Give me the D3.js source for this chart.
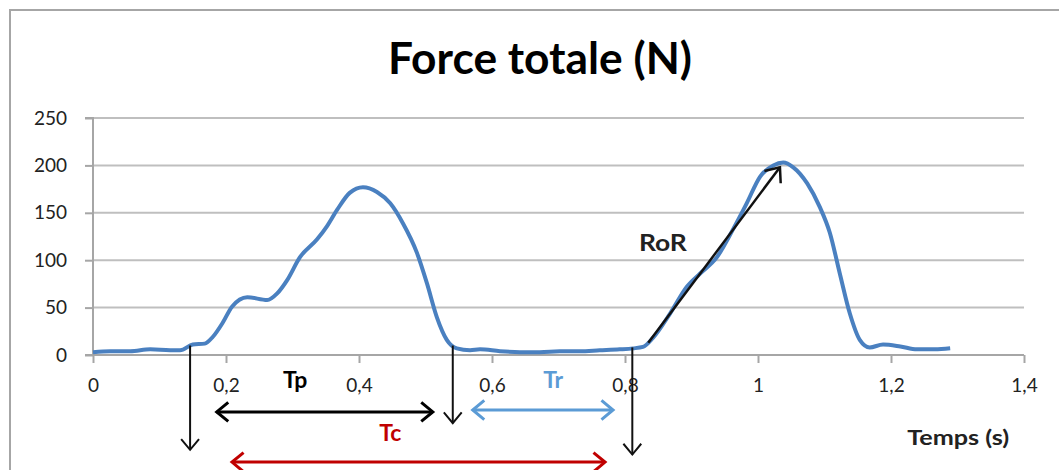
<!DOCTYPE html>
<html><head><meta charset="utf-8">
<script src="https://cdn.jsdelivr.net/npm/d3@7"></script>
<style>
html,body{margin:0;padding:0;background:#fff;}
svg{display:block;font-family:Lato,"Open Sans",sans-serif;}
</style></head>
<body><svg id="c" width="1059" height="470"></svg>
<script>
// ---- data ----
const title = "Force totale (N)";
const xLabel = "Temps (s)";
const time = [0,0.026,0.056,0.086,0.116,0.131,0.150,0.168,0.180,0.195,0.209,0.232,0.262,0.277,0.292,0.311,0.337,0.352,0.367,0.386,0.406,0.427,0.447,0.466,0.487,0.502,0.517,0.532,0.547,0.567,0.582,0.612,0.642,0.672,0.702,0.732,0.762,0.792,0.812,0.827,0.842,0.868,0.893,0.913,0.938,0.962,0.983,1.003,1.023,1.038,1.053,1.074,1.093,1.108,1.123,1.138,1.153,1.168,1.188,1.214,1.239,1.266,1.289];
const force = [3,4,4,6,5,5,11,12,19,34,51,61,58,65,79,103,122,136,153,171,177,172,160,139,108,76,40,16,7,5,6,4,3,3,4,4,5,6,7,8.5,18,44,72,86,103,132,160,188,200,203,198,181,156,129,86,44,16,8,11,9,6,6,7];
const xTicks = [0,0.2,0.4,0.6,0.8,1,1.2,1.4];
const yTicks = [0,50,100,150,200,250];
// annotations in data units: [t1, v1, t2, v2]
const downArrows = [[0.146,10,0.146,-100],[0.541,10,0.541,-72],[0.811,8,0.811,-105]];
const spans = [
  {name:"Tp", t1:0.186, t2:0.511, v:-60, color:"#000000", lt:0.304, lv:-26},
  {name:"Tr", t1:0.571, t2:0.782, v:-58, color:"#5b9bd5", lt:0.692, lv:-26},
  {name:"Tc", t1:0.209, t2:0.770, v:-113, color:"#c00000", lt:0.447, lv:-82}
];
const ror = {t1:0.835, v1:13, t2:1.033, v2:198, lt:0.857, lv:118};

// ---- scales ----
const svg = d3.select("#c");
const x = d3.scaleLinear().domain([0,1.4]).range([93,1024]);
const y = d3.scaleLinear().domain([0,250]).range([355,118]);

// frame
svg.append("path").attr("d","M10,470 V10 H1059").attr("fill","none").attr("stroke","#a6a6a6").attr("stroke-width",2);

// title
svg.append("text").attr("x",540).attr("y",74).attr("text-anchor","middle")
  .attr("font-size",43).attr("font-weight","bold").attr("fill","#000")
  .attr("textLength",304).attr("lengthAdjust","spacingAndGlyphs").text(title);

// gridlines
svg.append("g").selectAll("line").data(yTicks.filter(d=>d>0)).join("line")
  .attr("x1",x(0)).attr("x2",x(1.4)).attr("y1",d=>y(d)).attr("y2",d=>y(d))
  .attr("stroke","#bfbfbf").attr("stroke-width",2);

// y axis
const ya = svg.append("g").attr("transform",`translate(${x(0)},0)`)
  .call(d3.axisLeft(y).tickValues(yTicks).tickSize(8).tickPadding(18).tickFormat(d3.format("d")));
ya.select(".domain").attr("stroke","#a6a6a6").attr("stroke-width",2).attr("d",`M-8,${y(250)}H0V${y(0)}H-8`);
ya.selectAll(".tick line").attr("stroke","#a6a6a6").attr("stroke-width",2);
ya.selectAll("text").attr("font-size",19).attr("fill","#222").attr("font-family","Lato,sans-serif");

// x axis
const xa = svg.append("g").attr("transform",`translate(0,${y(0)})`)
  .call(d3.axisBottom(x).tickValues(xTicks).tickSize(8).tickPadding(16).tickFormat(d=>String(d).replace(".",",")));
xa.select(".domain").attr("stroke","#a6a6a6").attr("stroke-width",2).attr("d",`M${x(0)},0H${x(1.4)}`);
xa.selectAll(".tick line").attr("stroke","#a6a6a6").attr("stroke-width",2);
xa.selectAll("text").attr("font-size",19).attr("fill","#222").attr("font-family","Lato,sans-serif");

// curve
const pts = time.map((t,i)=>[t,force[i]]);
svg.append("path").datum(pts)
  .attr("d", d3.line().x(d=>x(d[0])).y(d=>y(d[1])).curve(d3.curveMonotoneX))
  .attr("fill","none").attr("stroke","#4a80c0").attr("stroke-width",4).attr("stroke-linejoin","round");

// arrow helper
function head(px,py,ang,size){
  const a1 = ang+Math.PI*0.78, a2 = ang-Math.PI*0.78;
  return `M${px+size*Math.cos(a1)},${py+size*Math.sin(a1)}L${px},${py}L${px+size*Math.cos(a2)},${py+size*Math.sin(a2)}`;
}
function arrow(x1,y1,x2,y2,color,w,both,size){
  const g = svg.append("g").attr("fill","none").attr("stroke",color).attr("stroke-width",w);
  g.append("line").attr("x1",x1).attr("y1",y1).attr("x2",x2).attr("y2",y2);
  const ang = Math.atan2(y2-y1,x2-x1);
  g.append("path").attr("d",head(x2,y2,ang,size));
  if(both) g.append("path").attr("d",head(x1,y1,ang+Math.PI,size));
}

downArrows.forEach(a=>arrow(x(a[0]),y(a[1]),x(a[2]),y(a[3]),"#111",2,false,14));
spans.forEach(s=>{
  arrow(x(s.t1),y(s.v),x(s.t2),y(s.v),s.color,3,true,15);
  svg.append("text").attr("x",x(s.lt)).attr("y",y(s.lv)+8).attr("text-anchor","middle")
    .attr("font-size",23).attr("font-weight","bold").attr("fill",s.color).text(s.name);
});
arrow(x(ror.t1),y(ror.v1),x(ror.t2),y(ror.v2),"#111",2.5,false,16);
svg.append("text").attr("x",x(ror.lt)).attr("y",y(ror.lv)+8).attr("text-anchor","middle")
  .attr("font-size",22).attr("font-weight","bold").attr("fill","#222")
  .attr("textLength",48).attr("lengthAdjust","spacingAndGlyphs").text("RoR");

svg.append("text").attr("x",x(1.301)).attr("y",y(-88)+7).attr("text-anchor","middle")
  .attr("font-size",21).attr("font-weight","bold").attr("fill","#222")
  .attr("textLength",102).attr("lengthAdjust","spacingAndGlyphs").text(xLabel);
</script></body></html>
